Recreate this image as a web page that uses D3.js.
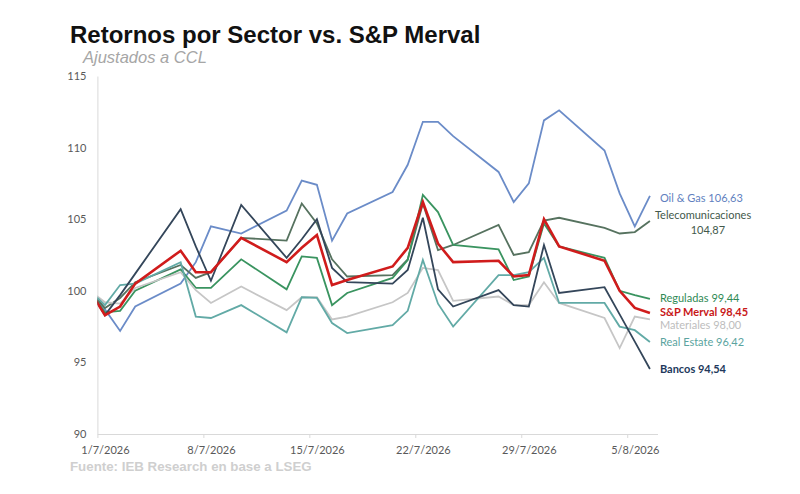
<!DOCTYPE html>
<html>
<head>
<meta charset="utf-8">
<script src="https://cdn.jsdelivr.net/npm/d3@7"></script>
<style>
  body { margin: 0; background: #fff; }
</style>
</head>
<body>
<script>
// trading days (30/6 is the base, clipped at the left edge of the plot)
const dates = ['2026-06-30', '2026-07-01', '2026-07-02', '2026-07-03', '2026-07-06', '2026-07-07',
  '2026-07-08', '2026-07-10', '2026-07-13', '2026-07-14', '2026-07-15', '2026-07-16', '2026-07-17',
  '2026-07-20', '2026-07-21', '2026-07-22', '2026-07-23', '2026-07-24', '2026-07-27', '2026-07-28',
  '2026-07-29', '2026-07-30', '2026-07-31', '2026-08-03', '2026-08-04', '2026-08-05', '2026-08-06'];

const oilGas = [100, 98.7, 97.2, 98.9, 100.5, 102.0, 104.5, 104.0, 105.6, 107.7, 107.4, 103.5, 105.4,
  106.9, 108.8, 111.8, 111.8, 110.8, 108.3, 106.2, 107.5, 111.9, 112.6, 109.8, 106.8, 104.5, 106.63];
const telecom = [100, 98.8, 99.5, 100.6, 101.8, 100.9, 101.3, 103.7, 103.5, 106.1, 104.7, 102.2, 101.0,
  101.1, 102.2, 106.1, 102.85, 103.2, 104.6, 102.5, 102.7, 104.9, 105.1, 104.4, 104.0, 104.1, 104.87];
const reguladas = [100, 98.5, 98.6, 100.0, 101.5, 100.2, 100.2, 102.2, 100.1, 102.4, 102.3, 99.0, 99.85,
  100.9, 102.15, 106.7, 105.5, 103.2, 102.9, 100.75, 101.0, 104.7, 103.1, 102.3, 100.0, 99.7, 99.44];
const materiales = [100, 99.2, 99.1, 100.2, 101.3, 100.05, 99.15, 100.3, 98.65, 99.55, 99.55, 98.0, 98.2,
  99.2, 99.85, 101.6, 101.45, 99.3, 99.6, 99.0, 99.0, 100.6, 99.15, 98.1, 96.0, 98.2, 98.0];
const realEstate = [100, 99.0, 100.4, 100.5, 102.0, 98.2, 98.1, 99.0, 97.1, 99.55, 99.5, 97.75, 97.05,
  97.6, 98.6, 102.15, 99.1, 97.5, 101.1, 101.1, 101.3, 102.3, 99.15, 99.15, 97.5, 97.25, 96.42];
const bancos = [100, 98.3, 99.7, 101.2, 105.7, 103.1, 100.7, 106.0, 102.3, 103.6, 105.0, 101.6, 100.6,
  100.5, 101.45, 105.1, 100.1, 98.9, 100.05, 99.0, 98.9, 103.2, 99.85, 100.25, 98.35, 96.45, 94.54];
const merval = [100, 98.3, 98.9, 100.5, 102.8, 101.3, 101.3, 103.7, 102.0, 103.0, 103.9, 100.4, 100.75,
  101.7, 103.0, 106.2, 103.3, 102.0, 102.1, 101.0, 101.1, 105.0, 103.1, 102.1, 100.0, 98.8, 98.45];

const xTickDates = ['2026-07-01', '2026-07-08', '2026-07-15', '2026-07-22', '2026-07-29', '2026-08-05'];
const xTickLabels = ['1/7/2026', '8/7/2026', '15/7/2026', '22/7/2026', '29/7/2026', '5/8/2026'];
const yTicks = [90, 95, 100, 105, 110, 115];

const series = [
  {name: 'Oil & Gas', values: oilGas},
  {name: 'Telecomunicaciones', values: telecom},
  {name: 'Reguladas', values: reguladas},
  {name: 'Materiales', values: materiales},
  {name: 'Real Estate', values: realEstate},
  {name: 'Bancos', values: bancos},
  {name: 'S&P Merval', values: merval}
];

// look of each line and its end label
const styles = {
  'Oil & Gas':          {line: '#6b8cc8', text: '#5f7fc0', width: 1.8, bold: false, dy: 2},
  'Telecomunicaciones': {line: '#56725f', text: '#43594b', width: 1.8, bold: false, dy: -6},
  'Reguladas':          {line: '#3a9460', text: '#2f8a55', width: 1.8, bold: false, dy: -1},
  'Materiales':         {line: '#c6c6c6', text: '#bdbdbd', width: 1.8, bold: false, dy: 6},
  'Real Estate':        {line: '#62aaa6', text: '#5aa4a0', width: 1.8, bold: false, dy: 0},
  'Bancos':             {line: '#34465a', text: '#22395c', width: 1.8, bold: true, dy: 0},
  'S&P Merval':         {line: '#d01c1c', text: '#c81818', width: 2.6, bold: true, dy: -1}
};

const width = 800, height = 494;
const plot = {left: 97.4, right: 657.5, top: 76, bottom: 434};
const arial = '"Liberation Sans", Arial, sans-serif';
const calibriLike = 'Lato, "Liberation Sans", sans-serif';

const parse = d3.timeParse('%Y-%m-%d');
const halfDay = 12 * 3600 * 1000;
const days = dates.map(parse);
const tickDays = xTickDates.map(parse);

// each date sits in the middle of its one-day slot
const xScale = d3.scaleTime()
  .domain([parse('2026-07-01'), parse('2026-08-07')])
  .range([plot.left, plot.right]);
const xMid = d => xScale(new Date(d.getTime() + halfDay));

const yScale = d3.scaleLinear()
  .domain([90, 115])
  .range([plot.bottom, plot.top]);

const svg = d3.select('body').append('svg')
  .attr('width', width)
  .attr('height', height);

svg.append('defs').append('clipPath').attr('id', 'plotClip')
  .append('rect')
    .attr('x', plot.left).attr('y', 0)
    .attr('width', width - plot.left).attr('height', height);

// titles
svg.append('text')
  .attr('x', 70).attr('y', 43)
  .style('font-family', arial)
  .attr('font-size', 24).attr('font-weight', 'bold').attr('fill', '#111')
  .text('Retornos por Sector vs. S&P Merval');

svg.append('text')
  .attr('x', 83).attr('y', 63)
  .style('font-family', arial)
  .attr('font-size', 16.5).attr('font-style', 'italic').attr('fill', '#a6a6a6')
  .text('Ajustados a CCL');

svg.append('text')
  .attr('x', 70).attr('y', 471)
  .style('font-family', arial)
  .attr('font-size', 13.3).attr('font-weight', 'bold').attr('fill', '#cfcfcf')
  .text('Fuente: IEB Research en base a LSEG');

// y axis
const yAxis = svg.append('g')
  .attr('transform', `translate(${plot.left},0)`)
  .call(d3.axisLeft(yScale).tickValues(yTicks).tickSize(0).tickPadding(11));
yAxis.select('.domain').attr('stroke', '#d9d9d9');
yAxis.selectAll('text').style('font-family', calibriLike).attr('font-size', 11).attr('fill', '#595959');

// x axis
const xAxis = svg.append('g')
  .attr('transform', `translate(0,${plot.bottom})`)
  .call(d3.axisBottom(xScale).tickValues(tickDays).tickSize(4).tickSizeOuter(0)
    .tickFormat((d, i) => xTickLabels[i]));
xAxis.select('.domain').attr('stroke', '#d9d9d9');
xAxis.selectAll('.tick line').attr('stroke', '#d9d9d9');
xAxis.selectAll('text')
  .attr('x', xScale(tickDays[0].getTime() + halfDay) - plot.left)
  .attr('dy', '1.15em')
  .style('font-family', calibriLike).attr('font-size', 11).attr('fill', '#595959');

// lines
const line = d3.line()
  .x((d, i) => xMid(days[i]))
  .y(d => yScale(d));

const lines = svg.append('g').attr('clip-path', 'url(#plotClip)');
series.forEach(s => {
  lines.append('path')
    .datum(s.values)
    .attr('fill', 'none')
    .attr('stroke', styles[s.name].line)
    .attr('stroke-width', styles[s.name].width)
    .attr('stroke-linejoin', 'miter')
    .attr('d', line);
});

// end labels
const fmt = v => v.toFixed(2).replace('.', ',');
const lastX = xMid(days[days.length - 1]);
series.forEach(s => {
  const st = styles[s.name];
  const last = s.values[s.values.length - 1];
  const y = yScale(last) + st.dy + 4;
  const label = svg.append('text')
    .style('font-family', calibriLike)
    .attr('font-size', 11)
    .attr('font-weight', st.bold ? 'bold' : 'normal')
    .attr('fill', st.text);
  if (s.name === 'Telecomunicaciones') {
    label.attr('x', lastX + 5).attr('y', y).text(s.name);
    svg.append('text')
      .attr('x', lastX + 58).attr('y', y + 15)
      .attr('text-anchor', 'middle')
      .style('font-family', calibriLike)
      .attr('font-size', 11).attr('fill', st.text)
      .text(fmt(last));
  } else {
    label.attr('x', lastX + 10).attr('y', y).text(`${s.name} ${fmt(last)}`);
  }
});
</script>
</body>
</html>
